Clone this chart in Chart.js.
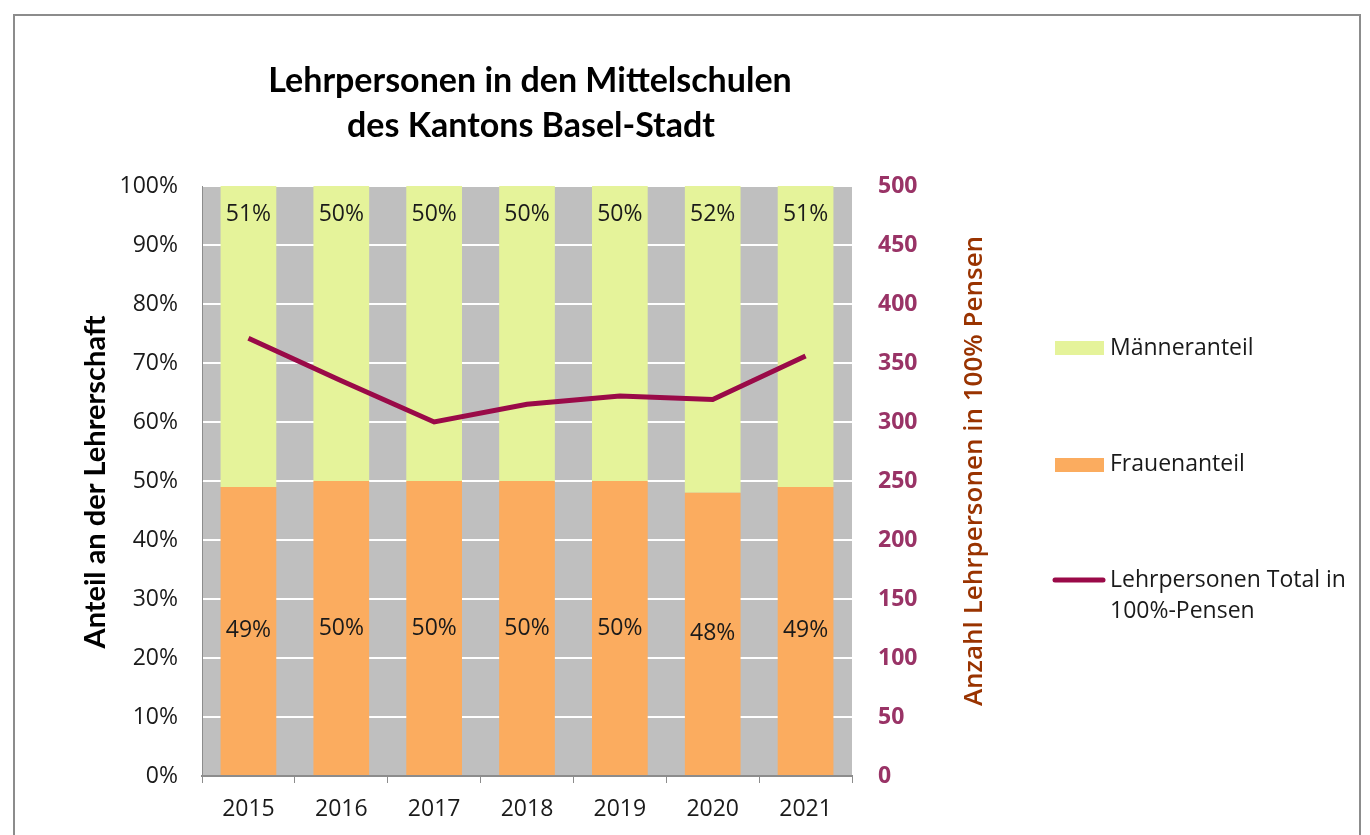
<!DOCTYPE html>
<html lang="de">
<head>
<meta charset="utf-8">
<title>Lehrpersonen Mittelschulen Basel-Stadt</title>
<script src="https://cdn.jsdelivr.net/npm/chart.js@4/dist/chart.umd.min.js"></script>
<style>
    html, body { margin: 0; padding: 0; background: #fff; }
    #wrap { position: relative; width: 1370px; height: 835px; }
    #rahmen {
        position: absolute; left: 13px; top: 14px; width: 1348px; height: 830px;
        border: 2px solid #8c8c8c; border-bottom: none; box-sizing: border-box;
    }
    canvas { position: absolute; left: 0; top: 0; }
</style>
</head>
<body>
<div id="wrap">
    <div id="rahmen"></div>
    <canvas id="lehrChart" width="1370" height="835"></canvas>
</div>
<script>
// Daten
const jahre = ['2015', '2016', '2017', '2018', '2019', '2020', '2021'];
const frauenanteil = [49, 50, 50, 50, 50, 48, 49];
const maenneranteil = [51, 50, 50, 50, 50, 52, 51];
const totalPensen = [371, 335, 300, 315, 322, 319, 356];
const prozentTicks = [0, 10, 20, 30, 40, 50, 60, 70, 80, 90, 100];
const pensenTicks = [0, 50, 100, 150, 200, 250, 300, 350, 400, 450, 500];

const FONT = '"Open Sans", "Liberation Sans", Arial, sans-serif';
const TITEL_FONT = 'Lato, "Liberation Sans", Arial, sans-serif';
const farben = {
    maenner: '#e5f39a',
    frauen: '#fbac5f',
    linie: '#9a0a48',
    hintergrund: '#bfbfbf',
    text: '#1a1a1a',
    rechts: '#993366',
    rechtsTitel: '#993300'
};

// Grauer Hintergrund der Zeichenfläche
const hintergrundPlugin = {
    id: 'hintergrund',
    beforeDraw(chart) {
        const { ctx, chartArea: a } = chart;
        ctx.save();
        ctx.fillStyle = farben.hintergrund;
        ctx.fillRect(a.left, a.top, a.right - a.left, a.bottom - a.top);
        ctx.restore();
    }
};

// Prozentbeschriftungen in den Balken
const beschriftungPlugin = {
    id: 'beschriftung',
    afterDatasetsDraw(chart) {
        const ctx = chart.ctx;
        ctx.save();
        ctx.font = '23px ' + FONT;
        ctx.fillStyle = farben.text;
        ctx.textAlign = 'center';
        ctx.textBaseline = 'middle';
        chart.getDatasetMeta(0).data.forEach((bar, i) => {
            ctx.fillText(frauenanteil[i] + '%', bar.x, (bar.y + bar.base) / 2);
        });
        chart.getDatasetMeta(1).data.forEach((bar, i) => {
            ctx.fillText(maenneranteil[i] + '%', bar.x, bar.y + 28);
        });
        ctx.restore();
    }
};

// Titel, Achsentitel und Legende
const textPlugin = {
    id: 'texte',
    afterDraw(chart) {
        const { ctx, chartArea: a } = chart;
        ctx.save();
        ctx.fillStyle = '#000';
        ctx.textAlign = 'center';
        ctx.textBaseline = 'middle';
        ctx.font = 'bold 34px ' + TITEL_FONT;
        const mitte = (a.left + a.right) / 2;
        ctx.fillText('Lehrpersonen in den Mittelschulen', mitte + 3, 81);
        ctx.fillText('des Kantons Basel-Stadt', mitte + 4, 126);

        ctx.font = 'bold 29px ' + TITEL_FONT;
        ctx.save();
        ctx.translate(96, 482);
        ctx.rotate(-Math.PI / 2);
        ctx.fillText('Anteil an der Lehrerschaft', 0, 0);
        ctx.restore();

        ctx.font = '600 26px ' + FONT;
        ctx.fillStyle = farben.rechtsTitel;
        ctx.save();
        ctx.translate(975, 471);
        ctx.rotate(-Math.PI / 2);
        ctx.fillText('Anzahl Lehrpersonen in 100% Pensen', 0, 0);
        ctx.restore();

        // Legende
        ctx.textAlign = 'left';
        ctx.font = '23px ' + FONT;
        ctx.fillStyle = farben.maenner;
        ctx.fillRect(1055, 341, 49, 14);
        ctx.fillStyle = farben.frauen;
        ctx.fillRect(1055, 458, 49, 14);
        ctx.strokeStyle = farben.linie;
        ctx.lineWidth = 5;
        ctx.lineCap = 'round';
        ctx.beginPath();
        ctx.moveTo(1055, 580);
        ctx.lineTo(1103, 580);
        ctx.stroke();

        ctx.fillStyle = farben.text;
        ctx.fillText(chart.data.datasets[1].label, 1110, 348);
        ctx.fillText(chart.data.datasets[0].label, 1110, 464);
        ctx.fillText('Lehrpersonen Total in', 1110, 580);
        ctx.fillText('100%-Pensen', 1110, 611);
        ctx.restore();
    }
};

new Chart(document.getElementById('lehrChart'), {
    data: {
        labels: jahre,
        datasets: [
            {
                type: 'bar',
                label: 'Frauenanteil',
                data: frauenanteil,
                backgroundColor: farben.frauen,
                yAxisID: 'y',
                stack: 'anteil',
                barPercentage: 0.6,
                categoryPercentage: 1,
                order: 1
            },
            {
                type: 'bar',
                label: 'Männeranteil',
                data: maenneranteil,
                backgroundColor: farben.maenner,
                yAxisID: 'y',
                stack: 'anteil',
                barPercentage: 0.6,
                categoryPercentage: 1,
                order: 1
            },
            {
                type: 'line',
                label: 'Lehrpersonen Total in 100%-Pensen',
                data: totalPensen,
                borderColor: farben.linie,
                borderWidth: 5,
                pointRadius: 0,
                tension: 0,
                yAxisID: 'y1',
                order: 0
            }
        ]
    },
    options: {
        responsive: false,
        animation: false,
        layout: { padding: { top: 186, left: 0, right: 0, bottom: 0 } },
        plugins: {
            legend: { display: false },
            title: { display: false },
            tooltip: { enabled: false }
        },
        scales: {
            x: {
                stacked: true,
                offset: true,
                grid: {
                    offset: true,
                    drawOnChartArea: false,
                    drawTicks: true,
                    tickLength: 7,
                    color: '#8c8c8c'
                },
                border: { color: '#8c8c8c', width: 2 },
                ticks: { color: farben.text, font: { family: FONT, size: 23 }, padding: 13 },
                afterFit(scale) { scale.height = 59; }
            },
            y: {
                position: 'left',
                stacked: true,
                min: 0,
                max: 100,
                afterBuildTicks(scale) { scale.ticks = prozentTicks.map(v => ({ value: v })); },
                ticks: {
                    color: farben.text,
                    font: { family: FONT, size: 23 },
                    padding: 24,
                    callback: v => v + '%'
                },
                grid: { color: '#ffffff', lineWidth: 2, drawTicks: false },
                border: { display: true, color: '#8c8c8c', width: 1 },
                afterFit(scale) { scale.width = 202; }
            },
            y1: {
                position: 'right',
                min: 0,
                max: 500,
                afterBuildTicks(scale) { scale.ticks = pensenTicks.map(v => ({ value: v })); },
                ticks: {
                    color: farben.rechts,
                    font: { family: FONT, size: 23, weight: 'bold' },
                    padding: 26
                },
                grid: { drawOnChartArea: false, drawTicks: false },
                border: { display: false },
                afterFit(scale) { scale.width = 1370 - 852; }
            }
        }
    },
    plugins: [hintergrundPlugin, beschriftungPlugin, textPlugin]
});
</script>
</body>
</html>
